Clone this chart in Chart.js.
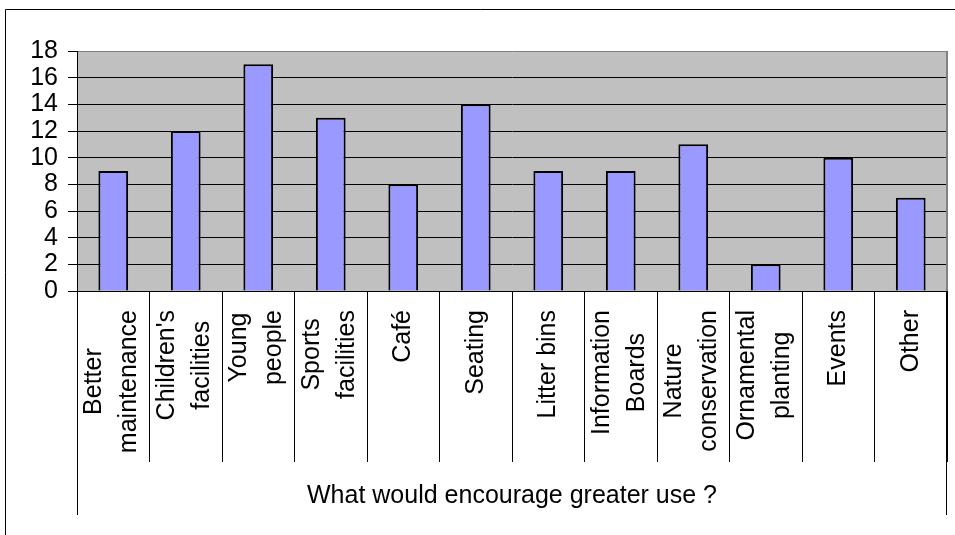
<!DOCTYPE html>
<html>
<head>
<meta charset="utf-8">
<script src="https://cdn.jsdelivr.net/npm/chart.js@4/dist/chart.umd.min.js"></script>
<style>
  html, body { margin: 0; padding: 0; background: #ffffff; }
  #wrap { width: 955px; height: 535px; position: relative; }
</style>
</head>
<body>
<div id="wrap"><canvas id="chart" width="955" height="535"></canvas></div>
<script>
// Survey answers: what would encourage greater use of the site
const categories = [
  ["Better", "maintenance"],
  ["Children's", "facilities"],
  ["Young", "people"],
  ["Sports", "facilities"],
  ["Café"],
  ["Seating"],
  ["Litter bins"],
  ["Information", "Boards"],
  ["Nature", "conservation"],
  ["Ornamental", "planting"],
  ["Events"],
  ["Other"]
];
const responses = [9, 12, 17, 13, 8, 14, 9, 9, 11, 2, 10, 7];
const yTicks = [0, 2, 4, 6, 8, 10, 12, 14, 16, 18];
const axisTitle = "What would encourage greater use ?";

const FONT = "'Liberation Sans', Arial, Helvetica, sans-serif";
const FONT_SIZE = 25;
Chart.defaults.font.family = FONT;
Chart.defaults.font.size = FONT_SIZE;
Chart.defaults.color = '#000000';

// Grey plot background, outer frame, category labels and the long end dividers
const excelLook = {
  id: 'excelLook',
  beforeDraw(chart) {
    const { ctx, chartArea: a } = chart;
    ctx.save();
    ctx.fillStyle = '#C0C0C0';
    ctx.fillRect(a.left, a.top, a.right - a.left, a.bottom - a.top);
    ctx.restore();
  },
  afterDraw(chart) {
    const { ctx, chartArea: a } = chart;
    const xs = chart.scales.x;
    ctx.save();
    // outer frame (left and top edges)
    ctx.strokeStyle = '#000000';
    ctx.lineWidth = 1;
    ctx.beginPath();
    ctx.moveTo(5.5, chart.height);
    ctx.lineTo(5.5, 9.5);
    ctx.lineTo(chart.width, 9.5);
    ctx.stroke();

    // right edge of plot area
    ctx.strokeStyle = '#808080';
    ctx.lineWidth = 2;
    ctx.beginPath();
    ctx.moveTo(Math.round(a.right), a.top);
    ctx.lineTo(Math.round(a.right), a.bottom);
    ctx.stroke();

    // outer dividers of the category box reach down past the title
    ctx.strokeStyle = '#000000';
    ctx.lineWidth = 1;
    ctx.beginPath();
    ctx.moveTo(Math.round(xs.left) + 0.5, a.bottom);
    ctx.lineTo(Math.round(xs.left) + 0.5, 515);
    ctx.moveTo(Math.round(xs.right) - 0.5, a.bottom);
    ctx.lineTo(Math.round(xs.right) - 0.5, 515);
    ctx.stroke();

    // rotated category labels, lines centred on each other
    ctx.font = FONT_SIZE + 'px ' + FONT;
    ctx.fillStyle = '#000000';
    ctx.textAlign = 'center';
    ctx.textBaseline = 'middle';
    const topY = 310;
    const twoLineOffsets = [-19, 16];
    categories.forEach((lines, i) => {
      const cx = xs.getPixelForValue(i);
      const widths = lines.map(t => ctx.measureText(t).width);
      const maxW = Math.max(...widths);
      const cy = topY + maxW / 2;
      lines.forEach((t, j) => {
        const dx = lines.length === 1 ? 0 : twoLineOffsets[j];
        ctx.save();
        ctx.translate(cx + dx, cy);
        ctx.rotate(-Math.PI / 2);
        ctx.fillText(t, 0, 0);
        ctx.restore();
      });
    });
    ctx.restore();
  }
};

new Chart(document.getElementById('chart'), {
  type: 'bar',
  data: {
    labels: categories,
    datasets: [{
      data: responses,
      backgroundColor: '#9999FF',
      borderColor: '#000000',
      borderWidth: 2,
      barPercentage: 0.41,
      categoryPercentage: 1.0
    }]
  },
  options: {
    responsive: false,
    animation: false,
    events: [],
    layout: { padding: { top: 51, right: 8, left: 0, bottom: 0 } },
    plugins: {
      legend: { display: false },
      tooltip: { enabled: false },
      title: { display: false }
    },
    scales: {
      x: {
        offset: true,
        grid: {
          display: true,
          offset: true,
          drawOnChartArea: false,
          drawTicks: true,
          tickLength: 171,
          color: '#000000',
          lineWidth: 1
        },
        border: { display: true, color: '#000000', width: 1 },
        ticks: { display: false },
        title: {
          display: true,
          text: axisTitle,
          color: '#000000',
          font: { size: FONT_SIZE, family: FONT },
          padding: { top: 0, bottom: 24 }
        },
        afterFit(scale) { scale.height = 244; }
      },
      y: {
        min: 0,
        max: 18,
        afterBuildTicks(scale) { scale.ticks = yTicks.map(v => ({ value: v })); },
        ticks: {
          autoSkip: false,
          color: '#000000',
          padding: 10,
          font: { size: FONT_SIZE, family: FONT, lineHeight: 1 }
        },
        grid: {
          color: c => (c.tick && c.tick.value === 18) ? '#808080' : '#000000',
          tickColor: '#000000',
          lineWidth: 1,
          tickLength: 9,
          drawTicks: true
        },
        border: { display: true, color: '#000000', width: 1 },
        afterFit(scale) { scale.width = 77; }
      }
    }
  },
  plugins: [excelLook]
});
</script>
</body>
</html>
